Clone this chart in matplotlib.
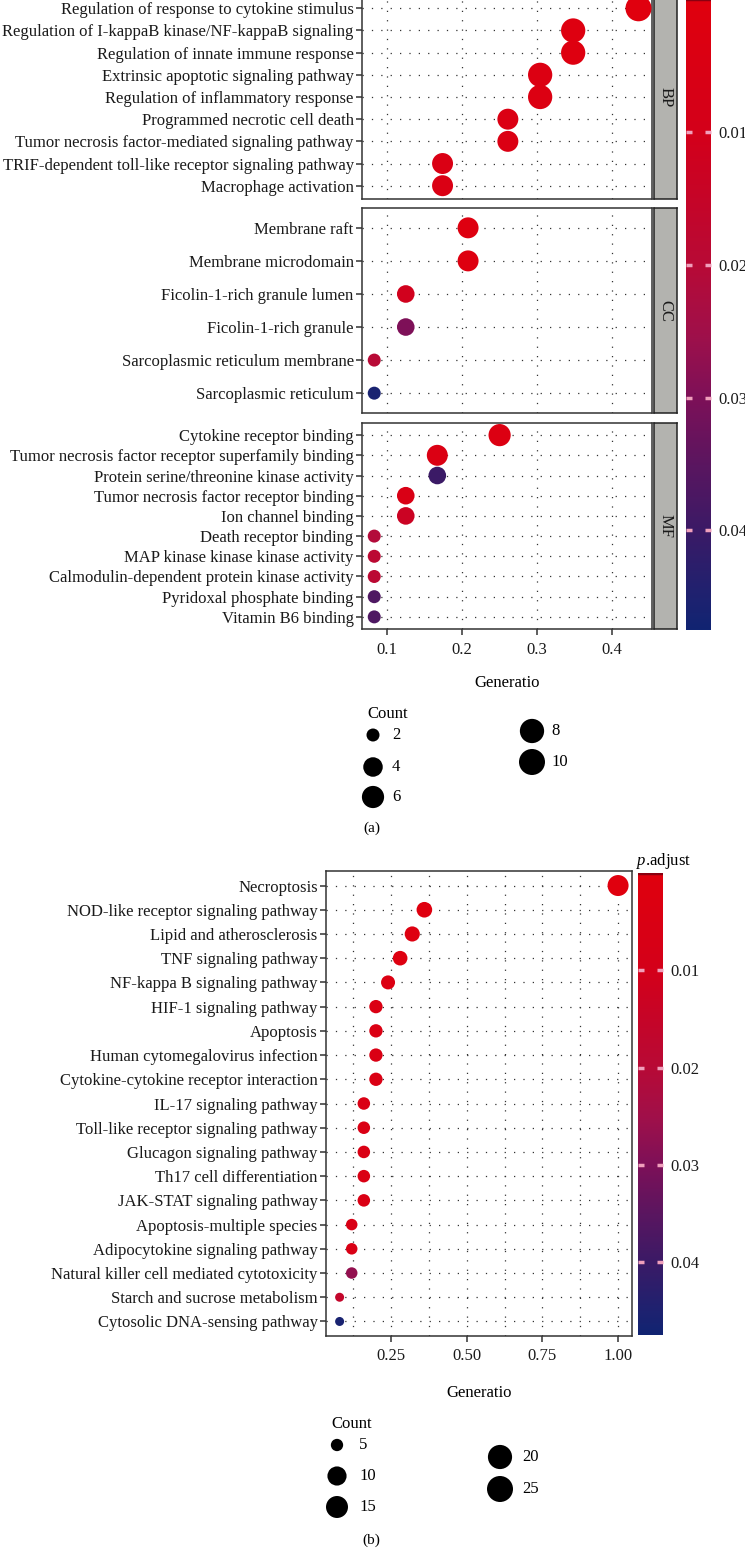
import numpy as np
import matplotlib.pyplot as plt
import matplotlib.colors as mcolors

plt.rcParams['font.family'] = ['Liberation Serif', 'DejaVu Serif']
plt.rcParams['mathtext.fontset'] = 'custom'
plt.rcParams['mathtext.rm'] = 'Liberation Serif'
plt.rcParams['mathtext.it'] = 'Liberation Serif:italic'

W, H = 745, 1548
FS = 12.0

# ---------------- panel (a) data: GO enrichment ----------------
bp_terms = ['Regulation of response to cytokine stimulus',
            'Regulation of I-kappaB kinase/NF-kappaB signaling',
            'Regulation of innate immune response',
            'Extrinsic apoptotic signaling pathway',
            'Regulation of inflammatory response',
            'Programmed necrotic cell death',
            'Tumor necrosis factor-mediated signaling pathway',
            'TRIF-dependent toll-like receptor signaling pathway',
            'Macrophage activation']
bp_ratio = [0.435, 0.348, 0.348, 0.304, 0.304, 0.261, 0.261, 0.174, 0.174]
bp_count = [10, 8, 8, 8, 8, 5, 5, 5, 5]
bp_padj = [0.0003, 0.002, 0.002, 0.003, 0.003, 0.004, 0.004, 0.005, 0.005]

cc_terms = ['Membrane raft',
            'Membrane microdomain',
            'Ficolin-1-rich granule lumen',
            'Ficolin-1-rich granule',
            'Sarcoplasmic reticulum membrane',
            'Sarcoplasmic reticulum']
cc_ratio = [0.208, 0.208, 0.125, 0.125, 0.083, 0.083]
cc_count = [5, 5, 3, 3, 2, 2]
cc_padj = [0.002, 0.002, 0.011, 0.030, 0.020, 0.046]

mf_terms = ['Cytokine receptor binding',
            'Tumor necrosis factor receptor superfamily binding',
            'Protein serine/threonine kinase activity',
            'Tumor necrosis factor receptor binding',
            'Ion channel binding',
            'Death receptor binding',
            'MAP kinase kinase kinase activity',
            'Calmodulin-dependent protein kinase activity',
            'Pyridoxal phosphate binding',
            'Vitamin B6 binding']
mf_ratio = [0.25, 0.167, 0.167, 0.125, 0.125, 0.083, 0.083, 0.083, 0.083, 0.083]
mf_count = [6, 5, 3, 3, 3, 2, 2, 2, 2, 2]
mf_padj = [0.003, 0.004, 0.040, 0.006, 0.013, 0.021, 0.019, 0.019, 0.037, 0.037]

# ---------------- panel (b) data: KEGG enrichment ----------------
kegg_terms = ['Necroptosis',
              'NOD-like receptor signaling pathway',
              'Lipid and atherosclerosis',
              'TNF signaling pathway',
              'NF-kappa B signaling pathway',
              'HIF-1 signaling pathway',
              'Apoptosis',
              'Human cytomegalovirus infection',
              'Cytokine-cytokine receptor interaction',
              'IL-17 signaling pathway',
              'Toll-like receptor signaling pathway',
              'Glucagon signaling pathway',
              'Th17 cell differentiation',
              'JAK-STAT signaling pathway',
              'Apoptosis-multiple species',
              'Adipocytokine signaling pathway',
              'Natural killer cell mediated cytotoxicity',
              'Starch and sucrose metabolism',
              'Cytosolic DNA-sensing pathway']
kegg_ratio = [1.00, 0.36, 0.32, 0.28, 0.24, 0.20, 0.20, 0.20, 0.20,
              0.16, 0.16, 0.16, 0.16, 0.16, 0.12, 0.12, 0.12, 0.08, 0.08]
kegg_count = [25, 9, 8, 7, 6, 5, 5, 5, 5, 4, 4, 4, 4, 4, 3, 3, 3, 2, 2]
kegg_padj = [0.0002, 0.001, 0.002, 0.002, 0.003, 0.004, 0.004, 0.005, 0.005,
             0.005, 0.005, 0.005, 0.005, 0.005, 0.006, 0.006, 0.027, 0.016, 0.046]

cbar_ticks = [0.01, 0.02, 0.03, 0.04]
legend_a = [2, 4, 6, 8, 10]
legend_b = [5, 10, 15, 20, 25]

# colour scale (red -> blue as in the figure)
cmap = mcolors.LinearSegmentedColormap.from_list('padj', [
    (0.00, '#e0000e'), (0.21, '#d4001a'), (0.42, '#b80a36'), (0.53, '#a0104a'),
    (0.63, '#7e1058'), (0.74, '#5a1660'), (0.84, '#3c1a66'), (0.95, '#1e2270'),
    (1.00, '#112472')])
norm = mcolors.Normalize(vmin=0.0, vmax=0.0475)


def size_a(c):
    d = 13 + 13 * np.sqrt((np.asarray(c, float) - 2) / 8)
    return (d * 0.72) ** 2


def size_b(c):
    d = 9 + 12 * np.sqrt((np.asarray(c, float) - 2) / 23)
    return (d * 0.72) ** 2


def size_b_legend(c):
    d = 12.3 + 13.7 * np.sqrt((np.asarray(c, float) - 5) / 20)
    return (d * 0.72) ** 2


fig = plt.figure(figsize=(W / 100, H / 100), dpi=100)


def px_axes(x0, y0, x1, y1):
    return fig.add_axes([x0 / W, 1 - y1 / H, (x1 - x0) / W, (y1 - y0) / H])


# overlay for free text / legends (pixel coordinates)
ov = px_axes(0, 0, W, H)
ov.set_xlim(0, W)
ov.set_ylim(H, 0)
ov.axis('off')

GRID = dict(color='#333333', linestyle=(0, (1, 6.5)), linewidth=0.9)


def dot_panel(ax, terms, ratio, count, padj, size_fn, xlim):
    y = np.arange(len(terms))
    ax.scatter(ratio, y, s=size_fn(count), c=padj, cmap=cmap, norm=norm,
               edgecolors='none', zorder=3)
    ax.set_yticks(y, terms)
    ax.set_ylim(len(terms) - 0.4, -0.6)
    ax.set_xlim(*xlim)
    ax.set_axisbelow(True)
    ax.grid(True, which='major', **GRID)
    for s in ax.spines.values():
        s.set_color('#333333')
        s.set_linewidth(1.1)
    ax.tick_params(axis='both', length=4, width=1.1, color='#333333',
                   labelsize=FS, labelcolor='#1a1a1a', pad=2)


def strip(box, label):
    sa = px_axes(*box)
    sa.set_facecolor('#b3b3af')
    sa.set_xticks([])
    sa.set_yticks([])
    for s in sa.spines.values():
        s.set_color('#222222')
        s.set_linewidth(1.1)
    sa.text(0.5, 0.5, label, rotation=-90, ha='center', va='center',
            fontsize=FS, transform=sa.transAxes, color='#1a1a1a')


def colourbar(box, pad):
    cax = px_axes(*box)
    grad = np.linspace(norm.vmin, norm.vmax, 256)[:, None]
    cax.imshow(grad, aspect='auto', cmap=cmap, norm=norm,
               extent=[0, 1, norm.vmax, norm.vmin])
    cax.set_ylim(norm.vmax, norm.vmin)
    cax.axhline(norm.vmin, color='#8a0010', lw=2.5)
    cax.set_xticks([])
    cax.set_yticks(cbar_ticks, [f'{t:.2f}' for t in cbar_ticks])
    cax.yaxis.tick_right()
    cax.tick_params(axis='y', direction='in', left=True, right=True, length=4,
                    width=2.5, color='#f0a0bc', labelsize=FS, pad=pad,
                    labelcolor='#1a1a1a')
    for s in cax.spines.values():
        s.set_visible(False)
    return cax


# ---------------- panel (a) ----------------
xa = (0.0667, 0.453)
ax_bp = px_axes(362, -5, 652, 199)
ax_cc = px_axes(362, 208, 652, 413)
ax_mf = px_axes(362, 423, 652, 629)
dot_panel(ax_bp, bp_terms, bp_ratio, bp_count, bp_padj, size_a, xa)
dot_panel(ax_cc, cc_terms, cc_ratio, cc_count, cc_padj, size_a, xa)
dot_panel(ax_mf, mf_terms, mf_ratio, mf_count, mf_padj, size_a, xa)
for a in (ax_bp, ax_cc, ax_mf):
    a.set_xticks([0.1, 0.2, 0.3, 0.4])
for a in (ax_bp, ax_cc):
    a.tick_params(axis='x', bottom=False, labelbottom=False)
ax_mf.set_xticks([0.1, 0.2, 0.3, 0.4], ['0.1', '0.2', '0.3', '0.4'])
ax_mf.tick_params(axis='x', pad=5)

strip((654, -5, 677, 199), 'BP')
strip((654, 208, 677, 413), 'CC')
strip((654, 423, 677, 629), 'MF')
colourbar((686, -1, 711, 630), 5)

ov.text(507, 683, 'Generatio', ha='center', va='center', fontsize=FS)
ov.text(388, 714, 'Count', ha='center', va='center', fontsize=FS)
for c, (x, y) in zip(legend_a, [(373, 735), (373, 767), (373, 797), (532, 731), (532, 762)]):
    ov.scatter([x], [y], s=size_a(c), color='black', edgecolors='none')
    ov.text(x + 19, y, str(c), ha='left', va='center', fontsize=FS)
ov.text(372, 828, '(a)', ha='center', va='center', fontsize=FS - 1)

# ---------------- panel (b) ----------------
ax_k = px_axes(326, 871, 632, 1336)
dot_panel(ax_k, kegg_terms, kegg_ratio, kegg_count, kegg_padj, size_b, (0.035, 1.046))
ax_k.set_xticks([0.25, 0.5, 0.75, 1.0], ['0.25', '0.50', '0.75', '1.00'])
ax_k.set_xticks([0.125, 0.375, 0.625, 0.875], minor=True)
ax_k.tick_params(axis='x', which='minor', length=0)
ax_k.tick_params(axis='x', which='major', pad=5)
ax_k.grid(True, which='minor', axis='x', **GRID)
colourbar((638, 873, 663, 1335), 5)
ov.text(664, 861, '$p$.adjust', ha='center', va='center', fontsize=FS)

ov.text(479, 1393, 'Generatio', ha='center', va='center', fontsize=FS)
ov.text(352, 1424, 'Count', ha='center', va='center', fontsize=FS)
for c, (x, y) in zip(legend_b, [(337, 1445), (337, 1476), (337, 1507), (500, 1457), (500, 1489)]):
    ov.scatter([x], [y], s=size_b_legend(c), color='black', edgecolors='none')
    ov.text(x + 22, y, str(c), ha='left', va='center', fontsize=FS)
ov.text(371, 1540, '(b)', ha='center', va='center', fontsize=FS - 1)

fig.savefig('out.png', dpi=100)
